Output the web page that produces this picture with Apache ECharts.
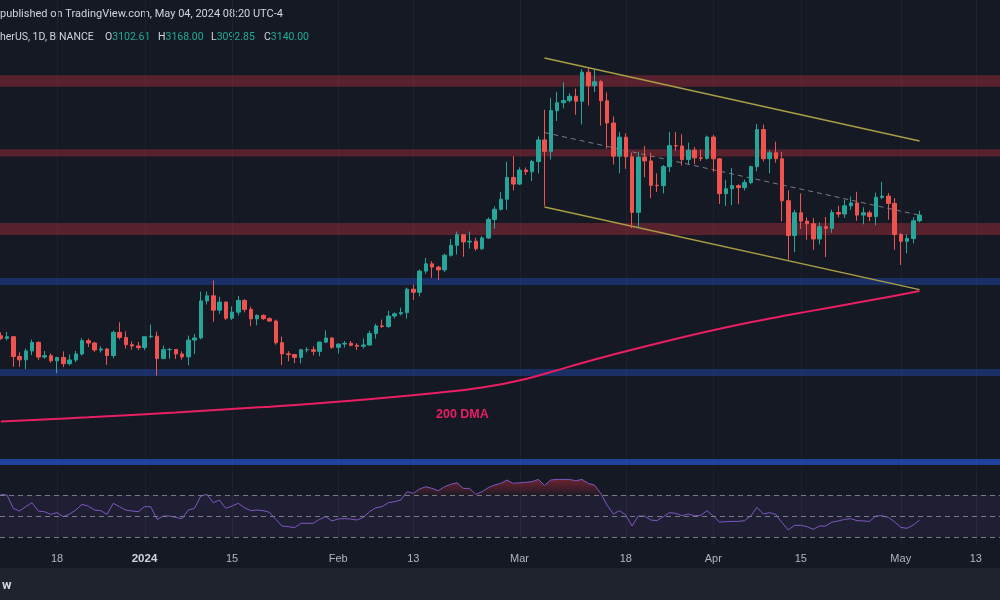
<!DOCTYPE html>
<html><head><meta charset="utf-8">
<script src="https://cdn.jsdelivr.net/npm/echarts@6/dist/echarts.min.js"></script>
<style>html,body{margin:0;padding:0;background:#151924;}#c{width:1000px;height:600px;}</style>
</head><body><div id="c"></div><script>
const dates = [
'2023-12-09','2023-12-10','2023-12-11','2023-12-12','2023-12-13','2023-12-14','2023-12-15','2023-12-16','2023-12-17','2023-12-18','2023-12-19','2023-12-20','2023-12-21','2023-12-22','2023-12-23','2023-12-24','2023-12-25','2023-12-26','2023-12-27','2023-12-28','2023-12-29','2023-12-30','2023-12-31',
'2024-01-01','2024-01-02','2024-01-03','2024-01-04','2024-01-05','2024-01-06','2024-01-07','2024-01-08','2024-01-09','2024-01-10','2024-01-11','2024-01-12','2024-01-13','2024-01-14','2024-01-15','2024-01-16','2024-01-17','2024-01-18','2024-01-19','2024-01-20','2024-01-21','2024-01-22','2024-01-23','2024-01-24','2024-01-25','2024-01-26','2024-01-27','2024-01-28','2024-01-29','2024-01-30','2024-01-31',
'2024-02-01','2024-02-02','2024-02-03','2024-02-04','2024-02-05','2024-02-06','2024-02-07','2024-02-08','2024-02-09','2024-02-10','2024-02-11','2024-02-12','2024-02-13','2024-02-14','2024-02-15','2024-02-16','2024-02-17','2024-02-18','2024-02-19','2024-02-20','2024-02-21','2024-02-22','2024-02-23','2024-02-24','2024-02-25','2024-02-26','2024-02-27','2024-02-28','2024-02-29',
'2024-03-01','2024-03-02','2024-03-03','2024-03-04','2024-03-05','2024-03-06','2024-03-07','2024-03-08','2024-03-09','2024-03-10','2024-03-11','2024-03-12','2024-03-13','2024-03-14','2024-03-15','2024-03-16','2024-03-17','2024-03-18','2024-03-19','2024-03-20','2024-03-21','2024-03-22','2024-03-23','2024-03-24','2024-03-25','2024-03-26','2024-03-27','2024-03-28','2024-03-29','2024-03-30','2024-03-31',
'2024-04-01','2024-04-02','2024-04-03','2024-04-04','2024-04-05','2024-04-06','2024-04-07','2024-04-08','2024-04-09','2024-04-10','2024-04-11','2024-04-12','2024-04-13','2024-04-14','2024-04-15','2024-04-16','2024-04-17','2024-04-18','2024-04-19','2024-04-20','2024-04-21','2024-04-22','2024-04-23','2024-04-24','2024-04-25','2024-04-26','2024-04-27','2024-04-28','2024-04-29','2024-04-30',
'2024-05-01','2024-05-02','2024-05-03','2024-05-04','2024-05-05','2024-05-06','2024-05-07','2024-05-08','2024-05-09','2024-05-10','2024-05-11','2024-05-12','2024-05-13','2024-05-14','2024-05-15','2024-05-16','2024-05-17'
];
const open = [2358,2341,2352,2224,2202,2260,2315,2220,2229,2196,2217,2177,2201,2240,2326,2311,2266,2272,2230,2380,2347,2300,2292,2281,2352,2355,2210,2268,2269,2240,2221,2330,2344,2584,2617,2524,2576,2472,2511,2587,2529,2468,2490,2469,2453,2313,2241,2236,2218,2267,2268,2257,2317,2343,2283,2304,2309,2296,2290,2298,2373,2422,2418,2486,2500,2508,2660,2640,2777,2824,2803,2785,2880,2944,3013,2966,2971,2922,2992,3112,3178,3243,3384,3341,3432,3421,3487,3627,3553,3817,3868,3882,3910,3878,4066,3978,4004,3881,3737,3522,3645,3518,3158,3516,3491,3333,3331,3454,3590,3588,3500,3561,3511,3508,3646,3505,3279,3311,3331,3318,3351,3454,3694,3505,3544,3505,3233,3008,3155,3101,3084,2985,3065,3054,3157,3147,3200,3219,3140,3155,3131,3255,3263,3216,3014,2970,2988,3103];
const close = [2341,2352,2224,2202,2260,2315,2220,2229,2196,2217,2177,2201,2240,2326,2311,2266,2272,2230,2380,2347,2300,2292,2281,2352,2355,2210,2268,2269,2240,2221,2330,2344,2584,2617,2524,2576,2472,2511,2587,2529,2468,2490,2469,2453,2313,2241,2236,2218,2267,2268,2257,2317,2343,2283,2304,2309,2296,2290,2298,2373,2422,2418,2486,2500,2508,2660,2640,2777,2824,2803,2785,2880,2944,3013,2966,2971,2922,2992,3112,3178,3243,3384,3341,3432,3421,3487,3627,3553,3817,3868,3882,3910,3878,4066,3978,4004,3881,3737,3522,3645,3518,3158,3516,3491,3333,3331,3454,3590,3588,3500,3561,3511,3508,3646,3505,3279,3311,3331,3318,3351,3454,3694,3505,3544,3505,3233,3008,3155,3101,3084,2985,3065,3054,3157,3147,3200,3219,3140,3155,3131,3255,3263,3216,3014,2970,2988,3103,3140];
const high = [2380,2383,2353,2250,2275,2333,2322,2260,2244,2222,2257,2236,2260,2342,2340,2318,2290,2278,2392,2445,2387,2322,2318,2353,2431,2385,2294,2279,2270,2257,2359,2370,2644,2645,2717,2611,2581,2548,2615,2595,2546,2497,2497,2478,2463,2353,2258,2240,2274,2283,2290,2320,2393,2350,2309,2324,2324,2309,2340,2391,2435,2463,2520,2510,2540,2670,2688,2787,2862,2841,2811,2890,2985,3033,3013,3033,2994,3004,3125,3196,3289,3487,3522,3450,3449,3498,3650,3822,3900,3939,4000,3930,3960,4086,4093,4083,4015,3935,3780,3677,3670,3546,3551,3588,3543,3410,3465,3680,3678,3664,3610,3582,3565,3655,3660,3510,3369,3445,3340,3370,3460,3730,3727,3560,3616,3550,3300,3175,3280,3125,3120,3093,3128,3175,3200,3240,3260,3291,3191,3170,3285,3355,3283,3250,3024,3016,3127,3168];
const low = [2330,2328,2157,2157,2142,2233,2200,2209,2183,2115,2155,2166,2187,2230,2285,2254,2249,2169,2212,2334,2275,2268,2265,2265,2341,2100,2208,2209,2208,2203,2167,2240,2335,2560,2450,2500,2460,2459,2490,2510,2420,2425,2461,2450,2300,2168,2193,2180,2178,2250,2231,2225,2310,2273,2243,2282,2290,2265,2275,2294,2340,2409,2410,2470,2490,2470,2590,2613,2760,2733,2720,2770,2870,2885,2870,2923,2909,2913,2985,3051,3170,3175,3300,3335,3400,3361,3410,3200,3500,3750,3832,3870,3790,3728,3850,3937,3720,3570,3468,3411,3440,3056,3061,3385,3250,3290,3280,3420,3557,3460,3470,3470,3490,3500,3420,3212,3200,3205,3210,3300,3340,3424,3487,3410,3480,3100,2852,2900,3050,2980,2915,2950,2868,3025,3125,3122,3174,3102,3080,3100,3074,3243,3110,2915,2817,2893,2957,3093];
const rsi = [70.6,70,57.3,54.8,58.9,62.7,54.8,54.1,51.6,53.2,
49.4,51.9,55.7,61.1,59.5,55.7,55.1,51.6,62.1,58.9,
55.7,54.8,54.1,58.9,58.9,46.8,50,50,48.7,47.5,
55.7,57.3,69,70.6,62.7,65.2,57.3,59.5,62.1,57.9,
55.1,55.7,55.1,53.5,46.8,40.5,39.9,38.9,43.1,43.1,
43.1,46.8,49.4,45.3,47.2,47.5,47.2,46.2,48.7,54.1,
57.9,58.9,62.7,63.7,65.2,73.2,71.6,75.7,77.9,76.3,
74.1,77.9,80.2,81.7,76.3,76.3,70.6,73.2,77,79.5,
81.1,84.3,81.1,81.7,82.1,82.7,84.9,79.2,84.3,84.9,
84.9,84.9,83.6,84.9,81.1,79.5,71.6,60.5,51.9,55.1,
51,40.5,50,50,46.2,45.6,49.4,53.2,52.6,50.3,
51.9,50.3,50.6,55.1,50,44.3,44.6,44.9,44.9,45.6,
50,58.3,51.9,53.2,51.6,43.7,36.7,41.1,41.1,39.9,
37.3,40.5,40.5,44.3,45.3,46.8,47.5,45.6,45.3,44.9,
50,50.3,48.7,44.6,39.2,38.3,41.4,46.2];
const tickDates = ['2023-12-18','2024-01-01','2024-01-15','2024-02-01','2024-02-13','2024-03-01','2024-03-18','2024-04-01','2024-04-15','2024-05-01','2024-05-13'];
const tickLabels = ['18','2024','15','Feb','13','Mar','18','Apr','15','May','13'];
const dmaDates = ['2023-12-09','2023-12-23','2024-01-06','2024-01-20','2024-02-03','2024-02-17','2024-02-24','2024-03-02','2024-03-09','2024-03-16','2024-03-23','2024-03-30','2024-04-06','2024-04-13','2024-04-20','2024-04-27','2024-05-04'];
const dmaValues = [1802,1830,1861,1896,1937,1989,2022,2078,2158,2236,2308,2376,2438,2492,2543,2594,2648];
const channelDates = ['2024-03-05','2024-05-04'];
const channelUpper = [4158,3620];
const channelMid = [3675,3139];
const channelLower = [3192,2657];
const zoneLow = [3972,3520,3011,2687,2097,1520];
const zoneHigh = [4046,3566,3089,2732,2143,1560];
const zoneKind = ['resistance','resistance','resistance','support','support','supportStrong'];
const rsiLevels = [70,50,30];
const legendKeys = ['O','H','L','C'];
const legendVals = ['3102.61','3168.00','3092.85','3140.00'];

const FONT = '"Liberation Sans", Arial, sans-serif';
const HFONT = 'Roboto, "Liberation Sans", sans-serif';
const idx = d => dates.indexOf(d);
const tickIdx = tickDates.map(idx);
const zoneFill = {resistance:'rgba(242,54,69,0.30)', support:'rgba(41,98,255,0.30)', supportStrong:'rgba(41,98,255,0.55)'};
const UP = '#26a69a', DOWN = '#ef5350';

const chart = echarts.init(document.getElementById('c'), null, {renderer:'canvas'});

function gridLines(xi, yi, yRef){
  return {
    type:'custom', xAxisIndex:xi, yAxisIndex:yi, z:0, silent:true,
    data: tickIdx.map(v => [v, yRef]), encode:{x:0, y:1},
    renderItem:(params, api) => {
      const cs = params.coordSys;
      const x = Math.round(api.coord([api.value(0), yRef])[0]) + 0.5;
      return {type:'line', shape:{x1:x, y1:cs.y, x2:x, y2:cs.y+cs.height}, style:{stroke:'#1d212c', lineWidth:1}};
    }
  };
}
function lineSeg(values, color, width, dash){
  return {
    type:'line', xAxisIndex:0, yAxisIndex:0, z:4, silent:true, showSymbol:false, symbol:'none',
    data: channelDates.map((d,i) => [idx(d), values[i]]),
    lineStyle:{color, width, type: dash || 'solid'}
  };
}

const option = {
  animation:false,
  backgroundColor:'#151924',
  grid:[
    {left:0, right:0, top:0, height:468},
    {left:0, right:0, top:469, height:76}
  ],
  xAxis:[
    {type:'value', gridIndex:0, min:-0.12, max:159.88, show:false},
    {type:'value', gridIndex:1, min:-0.12, max:159.88,
      axisLine:{show:false}, axisTick:{show:false, customValues:tickIdx}, splitLine:{show:false},
      axisLabel:{customValues:tickIdx, color:'#b2b5be', fontSize:11, fontFamily:FONT, margin:8,
        formatter:v => { const k = tickIdx.indexOf(Math.round(v)); const t = tickLabels[k]; return t === '2024' ? '{y|2024}' : (t || ''); },
        rich:{y:{fontWeight:'bold', color:'#d1d4dc', fontSize:11.5, fontFamily:FONT}}
      }
    }
  ],
  yAxis:[
    {type:'value', gridIndex:0, min:1501, max:4534, show:false},
    {type:'value', gridIndex:1, min:22.4, max:94.8, show:false}
  ],
  series:[
    gridLines(0,0,3000),
    gridLines(1,1,50),
    {
      type:'custom', xAxisIndex:0, yAxisIndex:0, z:1, silent:true,
      data: zoneLow.map((lo,i) => [0, lo, zoneHigh[i], i]), encode:{x:0, y:[1,2]},
      renderItem:(params, api) => {
        const cs = params.coordSys;
        const top = api.coord([0, api.value(2)])[1];
        const bot = api.coord([0, api.value(1)])[1];
        return {type:'rect', shape:{x:cs.x, y:top, width:cs.width, height:bot-top}, style:{fill: zoneFill[zoneKind[api.value(3)]]}};
      }
    },
    {
      type:'line', xAxisIndex:0, yAxisIndex:0, z:3, silent:true, showSymbol:false, symbol:'none', smooth:0.4,
      data: dmaDates.map((d,i) => [idx(d), dmaValues[i]]),
      lineStyle:{color:'#e91e63', width:2}
    },
    lineSeg(channelUpper, '#a89e45', 1.5),
    lineSeg(channelLower, '#a89e45', 1.5),
    lineSeg(channelMid, '#787b86', 1, [5,4]),
    {
      type:'candlestick', xAxisIndex:0, yAxisIndex:0, z:5, silent:true, barWidth:4,
      data: open.map((o,i) => [i, o, close[i], low[i], high[i]]), encode:{x:0, y:[1,2,3,4]},
      itemStyle:{color:UP, color0:DOWN, borderColor:UP, borderColor0:DOWN, borderWidth:1}
    },
    {
      type:'line', xAxisIndex:1, yAxisIndex:1, z:2, silent:true, showSymbol:false, symbol:'none',
      data: rsi.map((v,i) => [i, Math.max(v, 70)]),
      lineStyle:{width:0, opacity:0},
      areaStyle:{origin:70, color:new echarts.graphic.LinearGradient(0,0,0,1,[{offset:0,color:'rgba(242,54,69,0.55)'},{offset:1,color:'rgba(242,54,69,0.08)'}])}
    },
    {
      type:'line', xAxisIndex:1, yAxisIndex:1, z:3, silent:true, showSymbol:false, symbol:'none',
      data: rsi.map((v,i) => [i, v]),
      lineStyle:{color:'#7e57c2', width:1},
      markArea:{silent:true, itemStyle:{color:'rgba(126,87,194,0.10)'}, data:[[{yAxis:rsiLevels[2]},{yAxis:rsiLevels[0]}]]},
      markLine:{silent:true, symbol:'none', label:{show:false}, lineStyle:{color:'#787b86', type:[5,4], width:1},
        data: rsiLevels.map(v => ({yAxis:v}))}
    }
  ],
  graphic:[
    {type:'rect', shape:{x:0, y:568, width:1000, height:32}, style:{fill:'#1f232c'}, silent:true},
    {type:'text', x:2, y:586, style:{text:'w', fill:'#d1d4dc', font:'bold 13px ' + HFONT, verticalAlign:'middle'}},
    {type:'text', x:0, y:14, style:{text:'published on TradingView.com, May 04, 2024 08:20 UTC-4', fill:'#d1d4dc', font:'11px ' + HFONT, verticalAlign:'middle'}},
    {type:'text', x:0, y:37, style:{text:'herUS, 1D, BINANCE', fill:'#d1d4dc', font:'10.5px ' + HFONT, verticalAlign:'middle'}},
    ...legendKeys.map((k,i) => ({type:'text', x:[105,158,211,264][i], y:37,
      style:{text:'{k|' + k + '}{v|' + legendVals[i] + '}', verticalAlign:'middle', font:'10.5px ' + HFONT,
        rich:{k:{fill:'#d1d4dc', font:'10.5px ' + HFONT}, v:{fill:'#22ab94', font:'10.5px ' + HFONT}}}})),
    {type:'text', x:436, y:415, style:{text:'200 DMA', fill:'#e91e63', font:'bold 12.5px ' + FONT, verticalAlign:'middle'}}
  ]
};
chart.setOption(option);
</script></body></html>
